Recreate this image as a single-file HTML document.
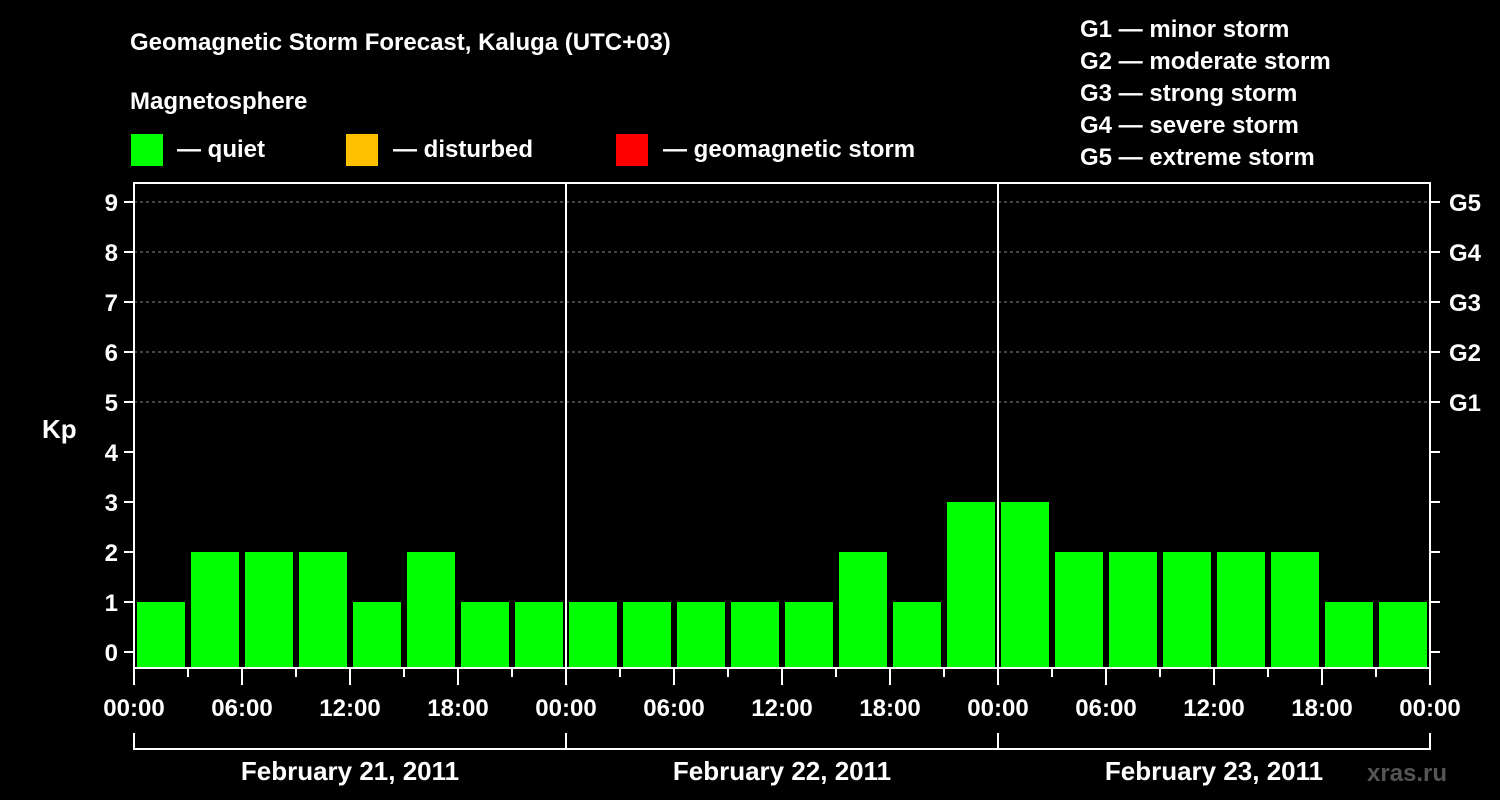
<!DOCTYPE html>
<html><head><meta charset="utf-8"><style>
body{margin:0;background:#000;width:1500px;height:800px;overflow:hidden}
svg{display:block}
text{font-family:"Liberation Sans",Arial,sans-serif;font-weight:bold;fill:#fff}
</style></head><body>
<svg id="chart" width="1500" height="800" viewBox="0 0 1500 800">
<text x="130" y="50" font-size="24">Geomagnetic Storm Forecast, Kaluga (UTC+03)</text>
<text x="130" y="109" font-size="24">Magnetosphere</text>
<g><rect x="131" y="134" width="32" height="32" fill="#00ff00"/><text x="177" y="157" font-size="24">— quiet</text></g>
<g><rect x="346" y="134" width="32" height="32" fill="#ffc000"/><text x="393" y="157" font-size="24">— disturbed</text></g>
<g><rect x="616" y="134" width="32" height="32" fill="#ff0000"/><text x="663" y="157" font-size="24">— geomagnetic storm</text></g>
<g font-size="24">
<text x="1080" y="37">G1 — minor storm</text>
<text x="1080" y="69">G2 — moderate storm</text>
<text x="1080" y="101">G3 — strong storm</text>
<text x="1080" y="133">G4 — severe storm</text>
<text x="1080" y="165">G5 — extreme storm</text>
</g>
<text x="42" y="438" font-size="26">Kp</text>
<g id="grid"></g><g id="bars"></g><g id="axes"></g>
<text x="1367" y="781" font-size="24" style="fill:#555">xras.ru</text>
</svg>
<script>
const kpValues=[1,2,2,2,1,2,1,1, 1,1,1,1,1,2,1,3, 3,2,2,2,2,2,1,1];
const dayLabels=["February 21, 2011","February 22, 2011","February 23, 2011"];
const hourLabels=["00:00","06:00","12:00","18:00"];
const gLabels=["G1","G2","G3","G4","G5"];
const NS="http://www.w3.org/2000/svg";
const L=134,R=1430,T=183,B=668;
const slotW=(R-L)/kpValues.length;
function y(v){return 652-50*v;}
function x(i){return L+i*slotW;}
function mk(tag,attrs,parent){const e=document.createElementNS(NS,tag);for(const k in attrs)e.setAttribute(k,attrs[k]);parent.appendChild(e);return e;}
const grid=document.getElementById('grid'),bars=document.getElementById('bars'),axes=document.getElementById('axes');
for(let k=5;k<=9;k++){const l=mk('line',{x1:L,x2:R,y1:y(k),y2:y(k),stroke:'#888','stroke-dasharray':'3,3','stroke-width':1},grid);

}
kpValues.forEach((v,i)=>{const c=v>=5?'#ff0000':(v>=4?'#ffc000':'#00ff00');
const r=mk('rect',{x:x(i)+3,y:y(v),width:slotW-6,height:B-1-y(v),fill:c},bars);

});
const fr=mk('path',{d:`M${L} ${T}H${R}V${B}H${L}Z`,fill:'none',stroke:'#fff','stroke-width':2},axes);


for(let d=1;d<dayLabels.length;d++){const dl=mk('line',{x1:x(d*8),x2:x(d*8),y1:T,y2:B,stroke:'#fff','stroke-width':2},axes);

}
for(let k=0;k<=9;k++){mk('line',{x1:L-10,x2:L,y1:y(k),y2:y(k),stroke:'#fff','stroke-width':2},axes);
mk('line',{x1:R,x2:R+10,y1:y(k),y2:y(k),stroke:'#fff','stroke-width':2},axes);
const t=mk('text',{x:L-16,y:y(k)+9,'font-size':24,'text-anchor':'end'},axes);t.textContent=k;

}
gLabels.forEach((g,i)=>{const t=mk('text',{x:R+19,y:y(5+i)+9,'font-size':24},axes);t.textContent=g;

});
for(let i=0;i<=kpValues.length;i++){const major=i%2===0;
mk('line',{x1:x(i),x2:x(i),y1:B,y2:B+(major?17:9),stroke:'#fff','stroke-width':2},axes);
if(major){const t=mk('text',{x:x(i),y:716,'font-size':24,'text-anchor':'middle'},axes);t.textContent=hourLabels[(i/2)%4];

}}
dayLabels.forEach((d,i)=>{const x0=x(i*8),x1=x(i*8+8);
mk('path',{d:`M${x0} 733V749H${x1}V733`,fill:'none',stroke:'#fff','stroke-width':2},axes);
const t=mk('text',{x:(x0+x1)/2,y:780,'font-size':26,'text-anchor':'middle'},axes);t.textContent=d;

});
</script>
</body></html>
